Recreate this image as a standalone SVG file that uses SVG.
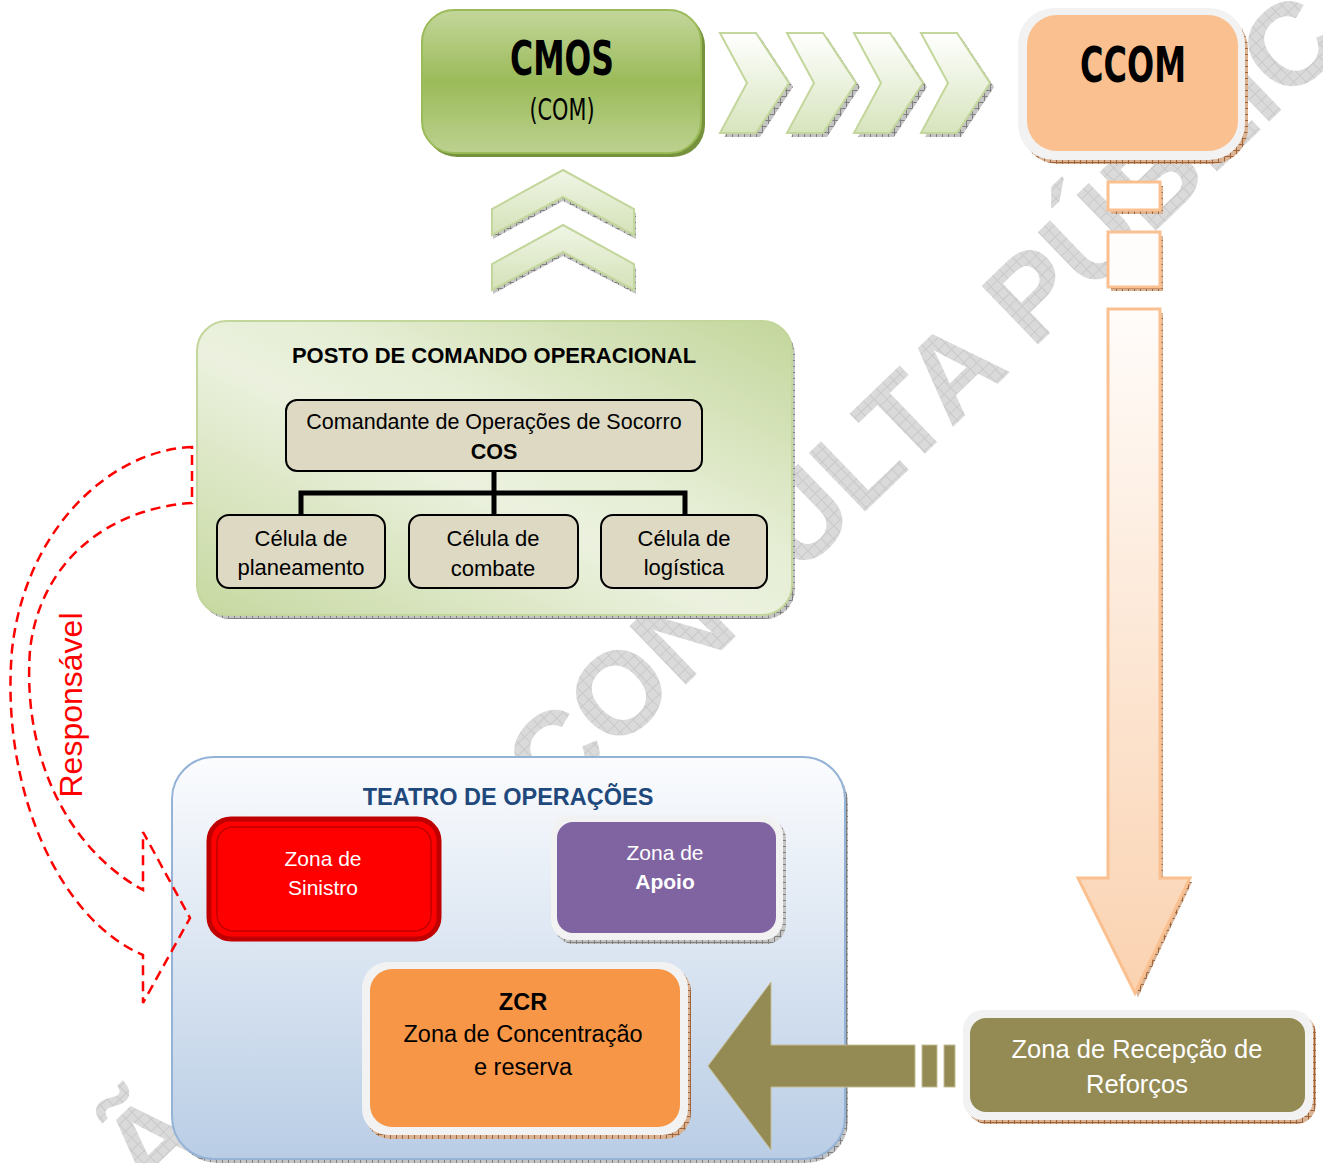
<svg xmlns="http://www.w3.org/2000/svg" width="1323" height="1163" viewBox="0 0 1323 1163">
<defs>
<style>
.t{font-family:"Liberation Sans",Arial,sans-serif;text-anchor:middle}
.b{font-weight:bold}
.cond{font-family:"DejaVu Sans Condensed","DejaVu Sans","Liberation Sans",sans-serif;font-weight:bold;text-anchor:middle}
.wm{font-family:"Liberation Sans",Arial,sans-serif;font-weight:bold;font-size:118px;fill:url(#wmP)}
.chev{fill:url(#chevG);stroke:#c3d69b;stroke-width:2}
.cell{fill:#ddd9c3;stroke:#000;stroke-width:2}
.pline{stroke:#000;stroke-width:5;fill:none}
.peach{fill:url(#peachG);stroke:#fac090;stroke-width:3}
.olive{fill:#948a54;stroke:#c4bd97;stroke-width:1}
</style>
<pattern id="wmP" width="9" height="9" patternUnits="userSpaceOnUse"><rect width="9" height="9" fill="#dadada"/><path d="M0 .5H9M.5 0V9" stroke="#c9c9c9" stroke-width="1"/></pattern>
<pattern id="hG" width="6" height="6" patternUnits="userSpaceOnUse"><rect width="6" height="6" fill="#c4c4c4"/><path d="M0 .5H6M.5 0V6" stroke="#808080" stroke-width="1"/></pattern>
<pattern id="hB" width="6" height="6" patternUnits="userSpaceOnUse"><rect width="6" height="6" fill="#d9b394"/><path d="M0 .5H6M.5 0V6" stroke="#a0643a" stroke-width="1"/></pattern>
<linearGradient id="cmosG" x1="0" y1="0" x2="0" y2="1"><stop offset="0" stop-color="#c3d69b"/><stop offset="0.5" stop-color="#9bbb59"/><stop offset="1" stop-color="#bcd18f"/></linearGradient>
<linearGradient id="chevG" x1="0" y1="0" x2="0" y2="1"><stop offset="0" stop-color="#ffffff"/><stop offset="1" stop-color="#d7e4bd"/></linearGradient>
<linearGradient id="upG" x1="0" y1="0" x2="0" y2="1"><stop offset="0" stop-color="#f0f5e6"/><stop offset="1" stop-color="#d4e2b8"/></linearGradient>
<linearGradient id="pcoG" x1="0" y1="1" x2="1" y2="0"><stop offset="0" stop-color="#c6d8a0"/><stop offset="0.45" stop-color="#ebf1de"/><stop offset="0.6" stop-color="#e6eed5"/><stop offset="1" stop-color="#c3d69b"/></linearGradient>
<linearGradient id="peachG" x1="0" y1="0" x2="0" y2="1"><stop offset="0" stop-color="#fffcfa"/><stop offset="1" stop-color="#fad2b0"/></linearGradient>
<linearGradient id="teaG" x1="0" y1="0" x2="0" y2="1"><stop offset="0" stop-color="#fbfcfe"/><stop offset="1" stop-color="#b9cde5"/></linearGradient>
</defs>
<rect width="1323" height="1163" fill="#ffffff"/>

<g id="watermark">
<text class="wm" x="553" y="813" transform="rotate(-44 553 813)">CONSULTA PÚBLICA</text>
<text class="wm" x="149" y="1201" transform="rotate(-44 149 1201)">Ã</text>
</g>

<g id="cmos">
<rect x="425" y="14" width="280" height="143" rx="32" fill="#76923c"/>
<rect x="422" y="10" width="279" height="143" rx="32" fill="url(#cmosG)" stroke="#9bbb59" stroke-width="2"/>
<text class="cond" x="562" y="75" font-size="48" textLength="104" lengthAdjust="spacingAndGlyphs">CMOS</text>
<text class="cond" x="562" y="120" font-size="31" style="font-weight:normal" textLength="65" lengthAdjust="spacingAndGlyphs">(COM)</text>
</g>

<g id="ccom">
<rect x="1022" y="13" width="226" height="151" rx="36" fill="url(#hB)"/>
<rect x="1018" y="8" width="227" height="152" rx="36" fill="#f2f2f2"/>
<rect x="1027" y="15" width="211" height="136" rx="30" fill="#fac090"/>
<text class="cond" x="1133" y="82" font-size="50" textLength="106" lengthAdjust="spacingAndGlyphs">CCOM</text>
</g>

<g id="pco">
<rect x="200" y="325" width="595" height="294" rx="30" fill="url(#hG)"/>
<rect x="197" y="321" width="595" height="294" rx="30" fill="url(#pcoG)" stroke="#c3d69b" stroke-width="2"/>
<text class="t b" x="494" y="363" font-size="22">POSTO DE COMANDO OPERACIONAL</text>
</g>

<g id="cos">
<rect class="cell" x="286" y="400" width="416" height="71" rx="11"/>
<text class="t" x="494" y="429" font-size="21.5">Comandante de Operações de Socorro</text>
<text class="t b" x="494" y="459" font-size="21.5">COS</text>
</g>

<g id="celula-planeamento">
<rect class="cell" x="217" y="515" width="168" height="73" rx="12"/>
<text class="t" x="301" y="546" font-size="22">Célula de</text>
<text class="t" x="301" y="575" font-size="22">planeamento</text>
</g>
<g id="celula-combate">
<rect class="cell" x="409" y="515" width="169" height="73" rx="12"/>
<text class="t" x="493" y="546" font-size="22">Célula de</text>
<text class="t" x="493" y="576" font-size="22">combate</text>
</g>
<g id="celula-logistica">
<rect class="cell" x="601" y="515" width="166" height="73" rx="12"/>
<text class="t" x="684" y="546" font-size="22">Célula de</text>
<text class="t" x="684" y="575" font-size="22">logística</text>
</g>

<g id="teatro">
<rect x="175" y="761" width="673" height="402" rx="42" fill="url(#hG)"/>
<rect x="172" y="757" width="673" height="402" rx="42" fill="url(#teaG)" stroke="#95b3d7" stroke-width="2"/>
<text class="t b" x="508" y="805" font-size="23.5" fill="#1f497d">TEATRO DE OPERAÇÕES</text>
</g>

<g id="zona-sinistro">
<rect x="209" y="819" width="230" height="120" rx="22" fill="#ff0000" stroke="#c00000" stroke-width="5"/>
<rect x="217" y="827" width="214" height="104" rx="16" fill="none" stroke="#c00000" stroke-width="1.5"/>
<text class="t" x="323" y="866" font-size="21" fill="#ffffff">Zona de</text>
<text class="t" x="323" y="895" font-size="21" fill="#ffffff">Sinistro</text>
</g>

<g id="zona-apoio">
<rect x="554" y="819" width="232" height="125" rx="20" fill="url(#hG)"/>
<rect x="551" y="815" width="232" height="125" rx="20" fill="#f2f2f2"/>
<rect x="557" y="822" width="219" height="111" rx="16" fill="#8064a2"/>
<text class="t" x="665" y="860" font-size="21" fill="#ffffff">Zona de</text>
<text class="t b" x="665" y="889" font-size="21" fill="#ffffff">Apoio</text>
</g>

<g id="zcr">
<rect x="365" y="966" width="326" height="173" rx="26" fill="url(#hB)"/>
<rect x="362" y="962" width="326" height="173" rx="26" fill="#f2f2f2"/>
<rect x="370" y="969" width="310" height="158" rx="22" fill="#f79646"/>
<text class="t b" x="523" y="1010" font-size="23.5">ZCR</text>
<text class="t" x="523" y="1042" font-size="23.5">Zona de Concentração</text>
<text class="t" x="523" y="1075" font-size="23.5">e reserva</text>
</g>

<g id="zona-recepcao">
<rect x="967" y="1014" width="349" height="110" rx="20" fill="url(#hB)"/>
<rect x="963" y="1010" width="350" height="110" rx="20" fill="#f2f2f2"/>
<rect x="970" y="1018" width="335" height="94" rx="16" fill="#948a54"/>
<text class="t" x="1137" y="1058" font-size="25.5" fill="#ffffff">Zona de Recepção de</text>
<text class="t" x="1137" y="1093" font-size="25.5" fill="#ffffff">Reforços</text>
</g>

<g id="connectors">
<g id="pco-lines">
<path class="pline" d="M494,471 V515 M301,516 V493 H685 V516"/>
</g>
<g id="chevrons-right">
<path d="M724,37 h36 l33,50 -33,50 h-36 l27,-50 z" fill="url(#hG)"/>
<path d="M791,37 h36 l33,50 -33,50 h-36 l27,-50 z" fill="url(#hG)"/>
<path d="M858,37 h36 l33,50 -33,50 h-36 l27,-50 z" fill="url(#hG)"/>
<path d="M925,37 h36 l33,50 -33,50 h-36 l27,-50 z" fill="url(#hG)"/>
<path class="chev" d="M720,33 h36 l33,50 -33,50 h-36 l27,-50 z"/>
<path class="chev" d="M787,33 h36 l33,50 -33,50 h-36 l27,-50 z"/>
<path class="chev" d="M854,33 h36 l33,50 -33,50 h-36 l27,-50 z"/>
<path class="chev" d="M921,33 h36 l33,50 -33,50 h-36 l27,-50 z"/>
</g>
<g id="chevrons-up">
<path d="M563,174 L636,213 V239 L563,201 L493,239 V213 Z" fill="url(#hG)"/>
<path d="M563,229 L636,268 V294 L563,256 L493,294 V268 Z" fill="url(#hG)"/>
<path d="M563,170 L634,209 V235 L563,197 L492,235 V209 Z" fill="url(#upG)" stroke="#c3d69b" stroke-width="2"/>
<path d="M563,225 L634,264 V290 L563,252 L492,290 V264 Z" fill="url(#upG)" stroke="#c3d69b" stroke-width="2"/>
</g>
<g id="ccom-down">
<rect x="1111" y="186" width="52" height="28" fill="url(#hB)"/>
<rect x="1111" y="236" width="52" height="55" fill="url(#hB)"/>
<path d="M1111,313 H1163 V882 H1192 L1138,997 L1081,882 H1111 Z" fill="url(#hB)"/>
<rect x="1108" y="182" width="52" height="28" fill="#ffffff" stroke="#fac090" stroke-width="3"/>
<rect x="1108" y="232" width="52" height="55" fill="#fffdfb" stroke="#fac090" stroke-width="3"/>
<path class="peach" d="M1108,309 H1160 V878 H1190 L1135,993 L1078,878 H1108 Z"/>
</g>
<g id="olive-arrow">
<path class="olive" d="M708,1066 L771,982 V1045 H915 V1087 H771 V1150 Z"/>
<rect class="olive" x="922" y="1045" width="15" height="42"/>
<rect class="olive" x="944" y="1045" width="11" height="42"/>
</g>
<g id="responsavel-arrow">
<path d="M192,447 C110,450 25,530 12,650 C0,790 60,920 143,955 V1003 L190,918 L143,832 V890 C70,850 22,760 30,650 C40,560 110,508 192,503 Z" fill="none" stroke="#ff0000" stroke-width="2.5" stroke-dasharray="10 6"/>
<text class="t" x="82" y="705" font-size="32" fill="#ff0000" transform="rotate(-90 82 705)">Responsável</text>
</g>
</g>
</svg>
